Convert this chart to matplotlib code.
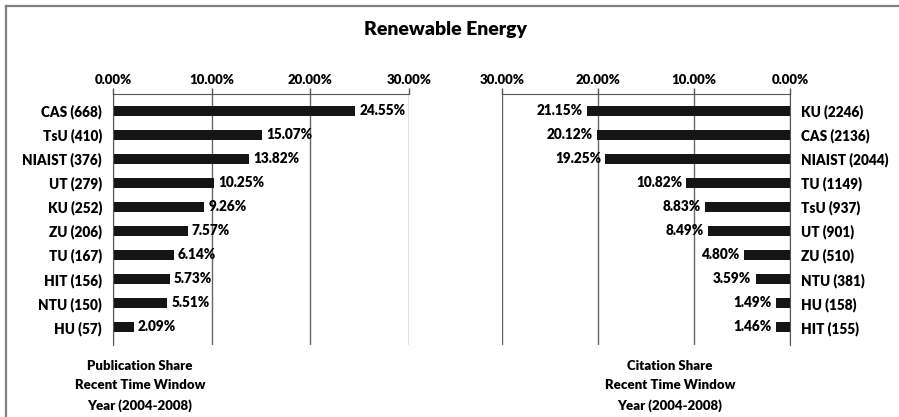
import matplotlib.pyplot as plt
from matplotlib.lines import Line2D
from matplotlib.ticker import FuncFormatter

plt.rcParams['font.family'] = ['Lato', 'DejaVu Sans']
plt.rcParams['font.weight'] = 'heavy'

# Publication share (left panel)
pub_labels = ['CAS (668)', 'TsU (410)', 'NIAIST (376)', 'UT (279)', 'KU (252)',
              'ZU (206)', 'TU (167)', 'HIT (156)', 'NTU (150)', 'HU (57)']
pub_share = [24.55, 15.07, 13.82, 10.25, 9.26, 7.57, 6.14, 5.73, 5.51, 2.09]

# Citation share (right panel)
cit_labels = ['KU (2246)', 'CAS (2136)', 'NIAIST (2044)', 'TU (1149)', 'TsU (937)',
              'UT (901)', 'ZU (510)', 'NTU (381)', 'HU (158)', 'HIT (155)']
cit_share = [21.15, 20.12, 19.25, 10.82, 8.83, 8.49, 4.80, 3.59, 1.49, 1.46]

ticks = [0, 10, 20, 30]
W, H = 899, 417

fig = plt.figure(figsize=(W / 100, H / 100), dpi=100)
fig.patch.set_facecolor('white')

def fx(px):
    return px / W

def fy(py):
    return 1 - py / H

pct = FuncFormatter(lambda v, p: f'{v:.2f}%')


def panel(rect, labels, values, right):
    ax = fig.add_axes(rect)
    ypos = list(range(len(values)))
    ax.barh(ypos, values, height=0.44, color='#151515')
    ax.set_xlim(0, 30)
    ax.set_ylim(9.75, -0.7)
    if right:
        ax.invert_xaxis()
    ax.set_xticks(ticks)
    ax.xaxis.set_major_formatter(pct)
    ax.xaxis.tick_top()
    ax.tick_params(axis='x', length=4, width=1, color='#555555', pad=2, labelsize=9.5)
    ax.set_yticks(ypos)
    ax.set_yticklabels(labels)
    ax.tick_params(axis='y', length=0, pad=8, labelsize=9.8)
    if right:
        ax.yaxis.tick_right()
    ax.grid(axis='x', color='#666666', linewidth=1)
    ax.set_axisbelow(True)
    for s in ax.spines.values():
        s.set_visible(False)
    side = 'right' if right else 'left'
    for name in ('top', side):
        ax.spines[name].set_visible(True)
        ax.spines[name].set_color('#555555')
    off = -3 if right else 3
    for y, v in zip(ypos, values):
        ax.annotate(f'{v:.2f}%', (v, y), xytext=(off, 0), textcoords='offset points',
                    ha='right' if right else 'left', va='center', fontsize=9.8)
    return ax


panel([fx(113), fy(345), fx(409) - fx(113), fy(94) - fy(345)], pub_labels, pub_share, False)
panel([fx(502), fy(345), fx(790) - fx(502), fy(94) - fy(345)], cit_labels, cit_share, True)

fig.text(fx(445), fy(30), 'Renewable Energy', ha='center', va='center', fontsize=14)

fig.text(fx(140), fy(386), 'Publication Share\nRecent Time Window\nYear (2004-2008)',
         ha='center', va='center', fontsize=9.5, linespacing=1.75)
fig.text(fx(670), fy(386), 'Citation Share\nRecent Time Window\nYear (2004-2008)',
         ha='center', va='center', fontsize=9.5, linespacing=1.75)

# outer frame (top and left edges only)
fig.add_artist(Line2D([fx(6), 1], [fy(6), fy(6)], color='#808080', linewidth=1.6))
fig.add_artist(Line2D([fx(6), fx(6)], [fy(6), 0], color='#808080', linewidth=1.6))

fig.savefig('out.png', dpi=100)
